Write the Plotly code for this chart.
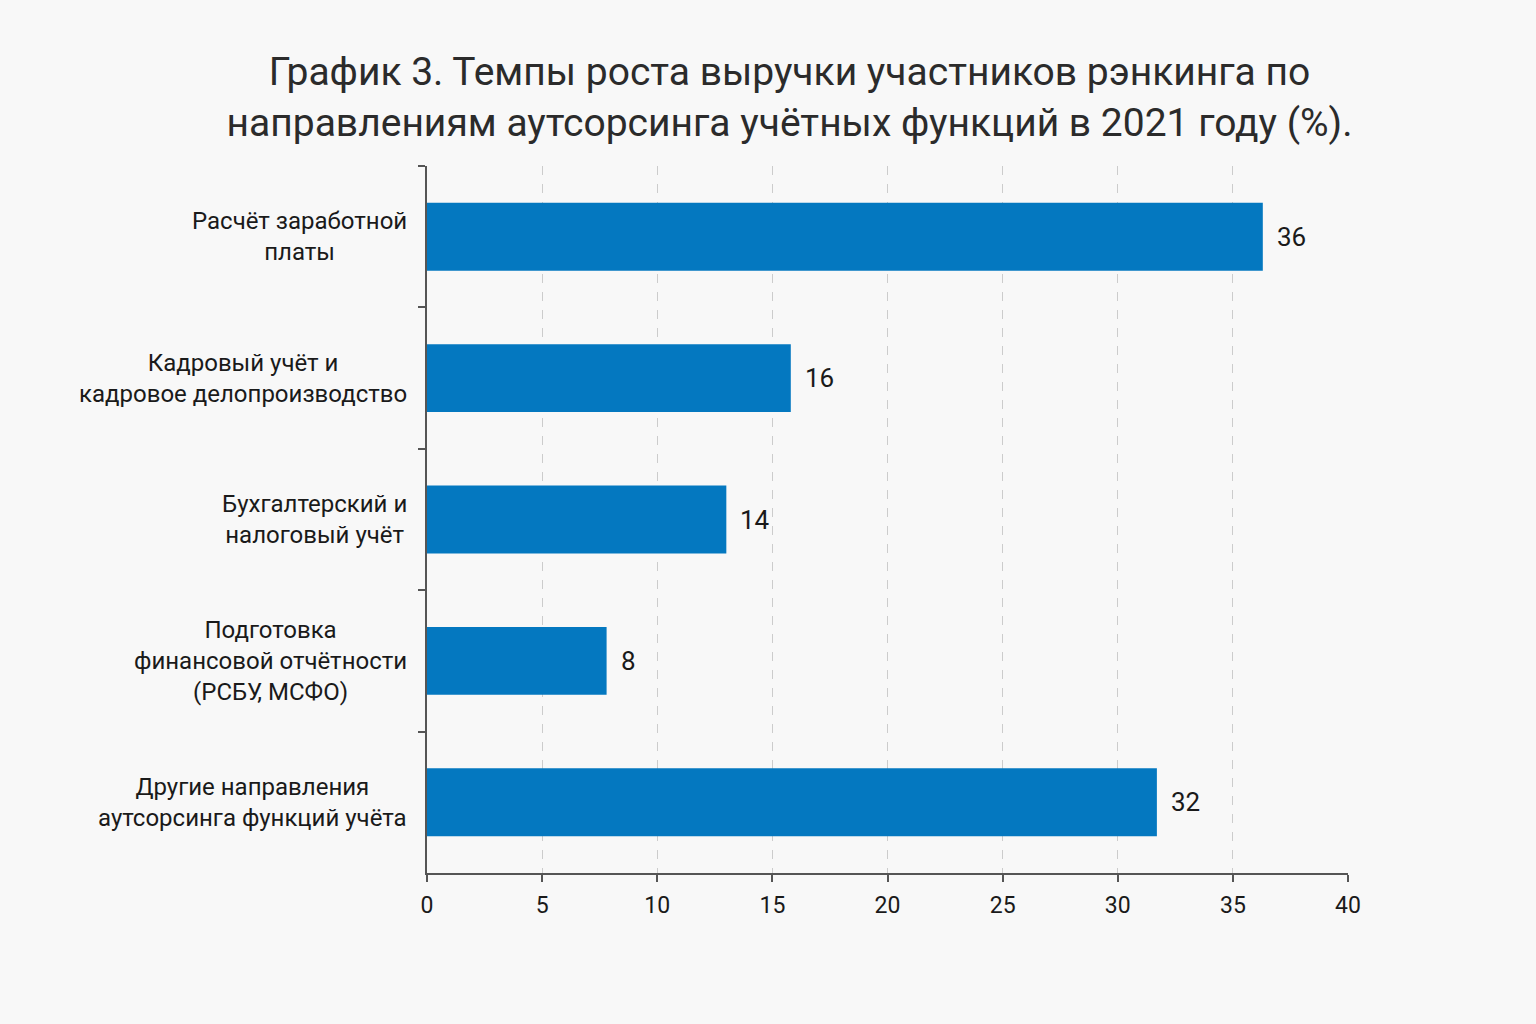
import plotly.graph_objects as go

categories = [
    "Расчёт заработной<br>платы",
    "Кадровый учёт и<br>кадровое делопроизводство",
    "Бухгалтерский и<br>налоговый учёт",
    "Подготовка<br>финансовой отчётности<br>(РСБУ, МСФО)",
    "Другие направления<br>аутсорсинга функций учёта",
]
values = [36.3, 15.8, 13.0, 7.8, 31.7]
value_labels = ["36", "16", "14", "8", "32"]
x_ticks = [0, 5, 10, 15, 20, 25, 30, 35, 40]

bar_color = "#0478c0"
axis_color = "#555555"
text_color = "#1a1a1a"
bg_color = "#f8f8f8"

fig = go.Figure()
fig.add_trace(go.Bar(
    x=values, y=categories, orientation="h",
    marker=dict(color=bar_color, line=dict(width=0)),
    width=0.48, hoverinfo="skip",
))

#  value labels next to bar ends
for cat, val, lab in zip(categories, values, value_labels):
    fig.add_annotation(x=val, y=cat, text=lab, showarrow=False,
                       xanchor="left", xshift=12,
                       font=dict(size=26, color=text_color))

#  category labels, centred lines
for cat in categories:
    fig.add_annotation(x=0, xref="paper", y=cat, text=cat, showarrow=False,
                       xanchor="right", align="center", xshift=-18,
                       font=dict(size=24, color=text_color))

fig.update_layout(
    title=dict(text="График 3. Темпы роста выручки участников рэнкинга по<br>"
                    "направлениям аутсорсинга учётных функций в 2021 году (%).",
               x=0.514, xanchor="center", y=0.917, yanchor="middle",
               font=dict(size=39, color="#2b2b2b")),
    font=dict(family="Roboto", size=22, color=text_color),
    width=1536, height=1024,
    margin=dict(l=427, r=188, t=166, b=151),
    plot_bgcolor=bg_color, paper_bgcolor=bg_color,
    showlegend=False,
)
fig.update_xaxes(range=[0, 40], tickvals=x_ticks, showline=True, linewidth=2,
                 linecolor=axis_color, ticks="outside", ticklen=7, tickwidth=2,
                 tickcolor=axis_color, showgrid=True, gridcolor="#cccccc",
                 griddash="dash", gridwidth=1, zeroline=False,
                 ticklabelstandoff=3,
                 tickfont=dict(size=23, color=text_color))
fig.update_yaxes(autorange="reversed", showline=True, linewidth=2,
                 linecolor=axis_color, ticks="outside", ticklen=7, tickwidth=2,
                 tickcolor=axis_color, tickson="boundaries",
                 showticklabels=False, showgrid=False)

#  drop the page margin so the figure sits at the window corner
fig.write_html("out.html", config={"displayModeBar": False},
               post_script="document.body.style.margin='0';"
                           "document.body.style.background='#f8f8f8';")
